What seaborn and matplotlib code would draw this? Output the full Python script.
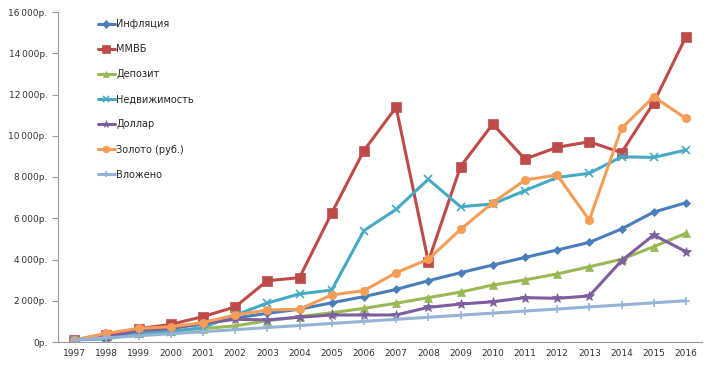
import matplotlib
matplotlib.use("Agg")
import matplotlib.pyplot as plt
import seaborn as sns
import pandas as pd
import numpy as np

years = [str(y) for y in range(1997, 2017)]
inflation = [100, 300, 550, 700, 850, 1160, 1390, 1590, 1900, 2200, 2550, 2970, 3360, 3730, 4100, 4460, 4830, 5480, 6300, 6750]
micex = [100, 350, 650, 850, 1230, 1700, 2970, 3120, 6250, 9280, 11380, 3900, 8500, 10570, 8870, 9440, 9710, 9180, 11600, 14800]
deposit = [100, 200, 450, 550, 650, 780, 1030, 1230, 1420, 1630, 1880, 2150, 2420, 2760, 3010, 3300, 3650, 4010, 4620, 5270]
realty = [100, 150, 400, 500, 700, 1300, 1890, 2330, 2520, 5400, 6430, 7890, 6560, 6690, 7340, 7980, 8180, 8980, 8950, 9310]
dollar = [100, 250, 550, 650, 900, 1100, 1070, 1200, 1310, 1310, 1310, 1680, 1840, 1950, 2150, 2120, 2230, 3940, 5190, 4380]
gold = [100, 420, 660, 740, 940, 1310, 1550, 1590, 2280, 2490, 3360, 4010, 5460, 6750, 7850, 8100, 5910, 10360, 11890, 10840]
invested = [100, 200, 300, 400, 500, 600, 700, 800, 900, 1000, 1100, 1200, 1300, 1400, 1500, 1600, 1700, 1800, 1900, 2000]

names = ["Инфляция", "ММВБ", "Депозит", "Недвижимость", "Доллар", "Золото (руб.)", "Вложено"]
series = [inflation, micex, deposit, realty, dollar, gold, invested]
colors = ["#4A7EBB", "#BE4B48", "#98B954", "#46AAC5", "#7D5FA0", "#F59D56", "#95B3D7"]
markers = ["D", "s", "^", "x", "*", "o", "+"]
msizes = [4.5, 6.5, 6, 6, 7, 6, 6]

sns.set_style("white")
plt.rcParams['font.family'] = ['DejaVu Sans']

rows = []
for n, vals in zip(names, series):
    for i, v in enumerate(vals):
        rows.append({"idx": i, "value": v, "series": n})
df = pd.DataFrame(rows)

fig = plt.figure(figsize=(7.12, 3.70), dpi=100)
ax = fig.add_axes([58/712, 1-342/370, 644/712, 330/370])

for n, c, m, ms in zip(names, colors, markers, msizes):
    sub = df[df["series"] == n]
    sns.lineplot(data=sub, x="idx", y="value", ax=ax, color=c, marker=m,
                 markersize=ms, linewidth=2.2, label=n,
                 markeredgecolor=c, markeredgewidth=1.2 if m in ("x", "+") else 0.5)

ax.set_xlim(-0.5, 19.5)
ax.set_ylim(0, 16000)
ax.set_xticks(range(20))
ax.set_xticklabels(years, fontsize=6.5, color="#333333")
ax.set_xticks(np.arange(-0.5, 20, 1), minor=True)
ax.tick_params(axis="x", which="major", length=0, pad=5)
ax.tick_params(axis="x", which="minor", length=4, color="#999999", direction="out")
yt = list(range(0, 16001, 2000))
ax.set_yticks(yt)
ax.set_yticklabels([("{:,}".format(v).replace(",", "\u2009") + "р.") if v else "0р." for v in yt],
                   fontsize=6.5, color="#333333")
ax.tick_params(axis="y", length=4, color="#999999", direction="out", left=True)
ax.set_xlabel("")
ax.set_ylabel("")
for s in ["top", "right"]:
    ax.spines[s].set_visible(False)
for s in ["left", "bottom"]:
    ax.spines[s].set_color("#999999")
    ax.spines[s].set_linewidth(0.8)

leg = ax.legend(loc="upper left", bbox_to_anchor=(0.048, 1.005), frameon=False,
                fontsize=7, labelspacing=1.55, handlelength=1.8, handletextpad=0.1,
                markerscale=0.8)

fig.savefig("out.png", dpi=100)
